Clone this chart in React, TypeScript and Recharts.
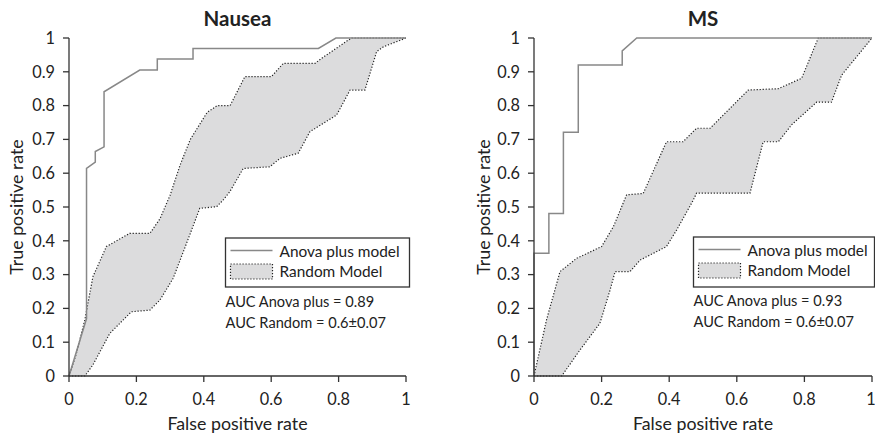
import React from "react";
import { ComposedChart, Line, Area, XAxis, YAxis } from "recharts";

// ---- data ----
const nauseaAnova = [
  { x: 0, y: 0 }, { x: 0.052, y: 0.17 }, { x: 0.052, y: 0.614 }, { x: 0.078, y: 0.633 },
  { x: 0.078, y: 0.664 }, { x: 0.104, y: 0.678 }, { x: 0.104, y: 0.841 }, { x: 0.21, y: 0.905 },
  { x: 0.262, y: 0.905 }, { x: 0.262, y: 0.938 }, { x: 0.368, y: 0.938 }, { x: 0.368, y: 0.969 },
  { x: 0.74, y: 0.969 }, { x: 0.792, y: 1 }, { x: 1, y: 1 },
];
const nauseaRandomUpper = [
  { x: 0, y: 0 }, { x: 0.022, y: 0.067 }, { x: 0.047, y: 0.166 }, { x: 0.071, y: 0.294 },
  { x: 0.111, y: 0.383 }, { x: 0.18, y: 0.422 }, { x: 0.24, y: 0.422 }, { x: 0.27, y: 0.465 },
  { x: 0.3, y: 0.535 }, { x: 0.33, y: 0.625 }, { x: 0.36, y: 0.7 }, { x: 0.41, y: 0.78 },
  { x: 0.44, y: 0.8 }, { x: 0.478, y: 0.8 }, { x: 0.522, y: 0.886 }, { x: 0.601, y: 0.886 },
  { x: 0.636, y: 0.925 }, { x: 0.73, y: 0.925 }, { x: 0.75, y: 0.94 }, { x: 0.829, y: 0.994 },
  { x: 0.839, y: 1 }, { x: 1, y: 1 },
];
const nauseaRandomLower = [
  { x: 0, y: 0 }, { x: 0.047, y: 0 }, { x: 0.071, y: 0.033 }, { x: 0.121, y: 0.126 },
  { x: 0.185, y: 0.19 }, { x: 0.24, y: 0.195 }, { x: 0.27, y: 0.225 }, { x: 0.309, y: 0.289 },
  { x: 0.349, y: 0.393 }, { x: 0.388, y: 0.496 }, { x: 0.438, y: 0.501 }, { x: 0.457, y: 0.52 },
  { x: 0.477, y: 0.545 }, { x: 0.517, y: 0.614 }, { x: 0.596, y: 0.619 }, { x: 0.626, y: 0.644 },
  { x: 0.68, y: 0.659 }, { x: 0.715, y: 0.723 }, { x: 0.794, y: 0.772 }, { x: 0.834, y: 0.846 },
  { x: 0.878, y: 0.846 }, { x: 0.913, y: 0.96 }, { x: 0.933, y: 0.974 }, { x: 1, y: 1 },
];
const msAnova = [
  { x: 0, y: 0 }, { x: 0, y: 0.363 }, { x: 0.044, y: 0.363 }, { x: 0.044, y: 0.481 },
  { x: 0.087, y: 0.481 }, { x: 0.087, y: 0.721 }, { x: 0.131, y: 0.721 }, { x: 0.131, y: 0.92 },
  { x: 0.261, y: 0.92 }, { x: 0.261, y: 0.962 }, { x: 0.304, y: 1 }, { x: 1, y: 1 },
];
const msRandomUpper = [
  { x: 0, y: 0 }, { x: 0.037, y: 0.166 }, { x: 0.077, y: 0.309 }, { x: 0.126, y: 0.348 },
  { x: 0.2, y: 0.383 }, { x: 0.235, y: 0.442 }, { x: 0.274, y: 0.536 }, { x: 0.323, y: 0.54 },
  { x: 0.392, y: 0.693 }, { x: 0.441, y: 0.693 }, { x: 0.481, y: 0.733 }, { x: 0.521, y: 0.733 },
  { x: 0.634, y: 0.846 }, { x: 0.723, y: 0.85 }, { x: 0.792, y: 0.881 }, { x: 0.841, y: 1 },
  { x: 1, y: 1 },
];
const msRandomLower = [
  { x: 0, y: 0 }, { x: 0.082, y: 0 }, { x: 0.136, y: 0.077 }, { x: 0.195, y: 0.156 },
  { x: 0.225, y: 0.254 }, { x: 0.24, y: 0.309 }, { x: 0.284, y: 0.309 }, { x: 0.314, y: 0.343 },
  { x: 0.392, y: 0.383 }, { x: 0.422, y: 0.432 }, { x: 0.471, y: 0.52 }, { x: 0.481, y: 0.541 },
  { x: 0.639, y: 0.541 }, { x: 0.678, y: 0.693 }, { x: 0.723, y: 0.693 }, { x: 0.762, y: 0.743 },
  { x: 0.836, y: 0.81 }, { x: 0.88, y: 0.81 }, { x: 0.91, y: 0.89 }, { x: 1, y: 1 },
];
const xTicks = [0, 0.2, 0.4, 0.6, 0.8, 1];
const yTicks = [0, 0.1, 0.2, 0.3, 0.4, 0.5, 0.6, 0.7, 0.8, 0.9, 1];
const legendLabels = ["Anova plus model", "Random Model"];
const nauseaAuc = ["AUC Anova plus = 0.89", "AUC Random = 0.6±0.07"];
const msAuc = ["AUC Anova plus = 0.93", "AUC Random = 0.6±0.07"];

const FONT = "Lato, 'Noto Sans', sans-serif";
const AXIS = "#333";
const LINE = "#888";
const BAND = "#dcdcdd";
const DOT = "1.2 1.8";
const TXT = "#222";

type PanelProps = {
  title: string;
  anova: { x: number; y: number }[];
  upper: { x: number; y: number }[];
  lower: { x: number; y: number }[];
  auc: string[];
  left: number;
  width: number;
  marginRight: number;
  yLabelX: number;
  legend: { x: number; y: number; w: number; h: number };
};

function Panel(p: PanelProps) {
  const plotLeft = 69;
  const plotRight = p.width - p.marginRight;
  const lg = p.legend;
  return (
    <div style={{ position: "absolute", left: p.left, top: 0, width: p.width, height: 433 }}>
      <ComposedChart
        width={p.width}
        height={433}
        margin={{ top: 38, right: p.marginRight, bottom: 7, left: 0 }}
        style={{ fontFamily: FONT, overflow: "visible" }}
      >
        <Area
          data={p.upper}
          dataKey="y"
          type="linear"
          fill={BAND}
          fillOpacity={1}
          stroke="#222"
          strokeWidth={1.2}
          strokeDasharray={DOT}
          isAnimationActive={false}
          dot={false}
          activeDot={false}
        />
        <Area
          data={p.lower}
          dataKey="y"
          type="linear"
          fill="#ffffff"
          fillOpacity={1}
          stroke="#222"
          strokeWidth={1.2}
          strokeDasharray={DOT}
          isAnimationActive={false}
          dot={false}
          activeDot={false}
        />
        <Line
          data={p.anova}
          dataKey="y"
          type="linear"
          stroke={LINE}
          strokeWidth={1.5}
          dot={false}
          activeDot={false}
          isAnimationActive={false}
        />
        <XAxis
          dataKey="x"
          type="number"
          domain={[0, 1]}
          ticks={xTicks}
          tickFormatter={(v: number) => String(v)}
          height={50}
          tickSize={6}
          tickMargin={11}
          stroke={AXIS}
          strokeWidth={1.3}
          allowDuplicatedCategory={false}
          tick={{ fill: TXT, fontSize: 16.3, fontFamily: FONT }}
          label={{
            content: () => (
              <text
                x={(plotLeft + plotRight) / 2}
                y={423}
                textAnchor="middle"
                dominantBaseline="central"
                fontSize={17.8}
                fontFamily={FONT}
                fill={TXT}
              >
                False positive rate
              </text>
            ),
          }}
        />
        <YAxis
          type="number"
          domain={[0, 1]}
          ticks={yTicks}
          tickFormatter={(v: number) => String(v)}
          width={69}
          tickSize={6}
          tickMargin={8}
          stroke={AXIS}
          strokeWidth={1.3}
          tick={{ fill: TXT, fontSize: 16.3, fontFamily: FONT }}
          label={{
            content: () => (
              <text
                x={p.yLabelX}
                y={207}
                transform={`rotate(-90, ${p.yLabelX}, 207)`}
                textAnchor="middle"
                dominantBaseline="central"
                fontSize={17.8}
                fontFamily={FONT}
                fill={TXT}
              >
                True positive rate
              </text>
            ),
          }}
        />
      </ComposedChart>
      <svg
        width={p.width}
        height={433}
        style={{ position: "absolute", left: 0, top: 0, pointerEvents: "none", overflow: "visible" }}
      >
        <text
          x={(plotLeft + plotRight) / 2}
          y={18}
          textAnchor="middle"
          dominantBaseline="central"
          fontSize={20.5}
          fontWeight="bold"
          fontFamily={FONT}
          fill={TXT}
        >
          {p.title}
        </text>
        <rect x={lg.x} y={lg.y} width={lg.w} height={lg.h} fill="#fff" stroke="#333" strokeWidth={1.3} />
        <line x1={lg.x + 5} x2={lg.x + 47} y1={lg.y + 12.5} y2={lg.y + 12.5} stroke={LINE} strokeWidth={1.5} />
        <text x={lg.x + 54} y={lg.y + 12.5} dominantBaseline="central" fontSize={15.4} fontFamily={FONT} fill={TXT}>
          {legendLabels[0]}
        </text>
        <rect
          x={lg.x + 5}
          y={lg.y + 26}
          width={42}
          height={15}
          fill={BAND}
          stroke="#222"
          strokeWidth={1.2}
          strokeDasharray={DOT}
        />
        <text x={lg.x + 54} y={lg.y + 33} dominantBaseline="central" fontSize={15.4} fontFamily={FONT} fill={TXT}>
          {legendLabels[1]}
        </text>
        <text x={lg.x} y={lg.y + 63} dominantBaseline="central" fontSize={14.6} fontFamily={FONT} fill={TXT}>
          {p.auc[0]}
        </text>
        <text x={lg.x} y={lg.y + 84} dominantBaseline="central" fontSize={14.6} fontFamily={FONT} fill={TXT}>
          {p.auc[1]}
        </text>
      </svg>
    </div>
  );
}

export default function App() {
  return (
    <div style={{ position: "absolute", left: 0, top: 0, width: 875, height: 433, background: "#fff" }}>
      <Panel
        title="Nausea"
        anova={nauseaAnova}
        upper={nauseaRandomUpper}
        lower={nauseaRandomLower}
        auc={nauseaAuc}
        left={0}
        width={437}
        marginRight={31}
        yLabelX={16}
        legend={{ x: 225.5, y: 238, w: 184, h: 49 }}
      />
      <Panel
        title="MS"
        anova={msAnova}
        upper={msRandomUpper}
        lower={msRandomLower}
        auc={msAuc}
        left={465}
        width={410}
        marginRight={3}
        yLabelX={18}
        legend={{ x: 228.5, y: 237, w: 181, h: 50 }}
      />
    </div>
  );
}
